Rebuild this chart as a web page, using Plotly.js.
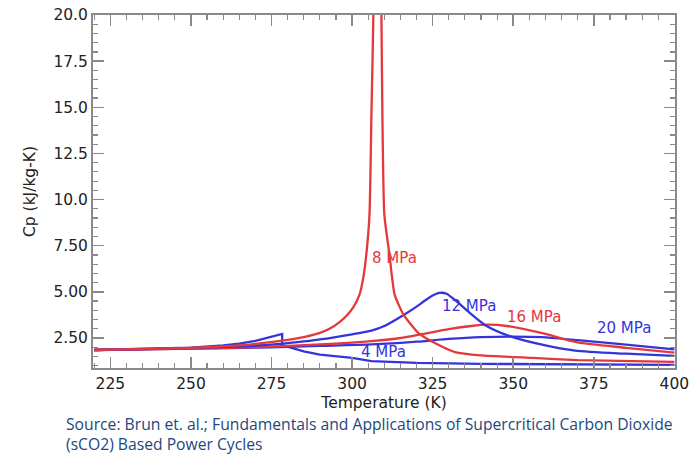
<!DOCTYPE html>
<html>
<head>
<meta charset="utf-8">
<script src="https://cdn.plot.ly/plotly-3.0.1.min.js"></script>
<style>
  html, body { margin: 0; padding: 0; background: #ffffff; }
  #chart { width: 696px; height: 454px; }
</style>
</head>
<body>
<div id="chart"></div>
<script>
// ---- Data (Temperature in K, Cp in kJ/kg-K) ----
const temp4MPa = [220, 230, 240, 250, 260, 265, 270, 275, 278.3, 278.3, 281, 285, 290, 295, 300, 306, 320, 340, 370, 400];
const cp4MPa   = [1.85, 1.88, 1.92, 1.98, 2.10, 2.20, 2.35, 2.55, 2.72, 2.12, 1.97, 1.78, 1.60, 1.50, 1.42, 1.25, 1.15, 1.10, 1.06, 1.04];

const temp8MPa = [220, 240, 255, 265, 272, 280, 285, 290, 293, 296, 298.5, 300.5, 302.3, 303.5, 304.4, 305.4, 306, 306.6, 307.8, 309.1, 309.4, 310, 311.6, 313.2, 316, 320.6, 326.9, 331.9, 340, 356, 370, 400];
const cp8MPa   = [1.85, 1.92, 2.00, 2.10, 2.22, 2.40, 2.55, 2.78, 3.00, 3.35, 3.75, 4.20, 4.85, 5.80, 7.00, 9.20, 14.6, 20.0, 40.0, 20.0, 14.6, 9.20, 7.00, 4.85, 3.75, 2.77, 2.12, 1.74, 1.56, 1.42, 1.30, 1.21];

const temp12MPa = [220, 250, 265, 278, 290, 300, 306, 310, 316, 320, 324, 327, 329.3, 331.9, 336.5, 341.2, 349.6, 360, 369.2, 385, 400];
const cp12MPa   = [1.85, 1.95, 2.05, 2.18, 2.42, 2.70, 2.90, 3.15, 3.75, 4.20, 4.70, 4.94, 4.90, 4.56, 3.86, 3.21, 2.56, 2.10, 1.82, 1.65, 1.53];

const temp16MPa = [220, 250, 275, 290, 300, 306, 315, 322, 330, 337, 342, 348, 359, 370, 385, 400];
const cp16MPa   = [1.85, 1.93, 2.03, 2.15, 2.25, 2.33, 2.50, 2.72, 2.98, 3.15, 3.22, 3.15, 2.76, 2.26, 1.97, 1.71];

const temp20MPa = [220, 250, 275, 290, 306, 320, 330, 340, 350, 359, 370, 385, 400];
const cp20MPa   = [1.85, 1.92, 2.00, 2.07, 2.15, 2.30, 2.45, 2.55, 2.58, 2.55, 2.38, 2.14, 1.89];

const xTickVals = [225, 250, 275, 300, 325, 350, 375, 400];
const xTickText = ["225", "250", "275", "300", "325", "350", "375", "400"];
const yTickVals = [2.5, 5, 7.5, 10, 12.5, 15, 17.5, 20];
const yTickText = ["2.50", "5.00", "7.50", "10.0", "12.5", "15.0", "17.5", "20.0"];

const seriesNames = ["4 MPa", "8 MPa", "12 MPa", "16 MPa", "20 MPa"];
const labelT  = [302.2, 305.6, 327.2, 347.4, 375.5];
const labelCp = [1.74, 6.84, 4.24, 3.64, 3.04];

// ---- Styling ----
const RED = "#e5383b";
const BLUE = "#3434dc";
const AXIS = "#8a8a8a";
const FONT = "DejaVu Sans, Liberation Sans, Arial, sans-serif";

function curve(x, y, color, name, shape, smoothing) {
  return {
    x: x, y: y, name: name, type: "scatter", mode: "lines",
    line: { color: color, width: 2.3, shape: shape, smoothing: smoothing },
    showlegend: false, hoverinfo: "x+y+name"
  };
}

const traces = [
  curve(temp4MPa, cp4MPa, BLUE, seriesNames[0], "linear", 0),
  curve(temp20MPa, cp20MPa, BLUE, seriesNames[4], "spline", 0.7),
  curve(temp16MPa, cp16MPa, RED, seriesNames[3], "spline", 0.7),
  curve(temp12MPa, cp12MPa, BLUE, seriesNames[2], "spline", 0.7),
  curve(temp8MPa, cp8MPa, RED, seriesNames[1], "spline", 0.5)
];

const labelColors = [BLUE, RED, BLUE, RED, BLUE];
const annotations = seriesNames.map((n, i) => ({
  x: labelT[i], y: labelCp[i], xref: "x", yref: "y",
  text: n, showarrow: false, xanchor: "left", yanchor: "middle",
  font: { family: FONT, size: 15, color: labelColors[i] }
}));

annotations.push({
  xref: "paper", yref: "paper", x: -0.05, y: -0.187,
  xanchor: "left", yanchor: "middle", align: "left", showarrow: false,
  text: "Source: Brun et. al.; Fundamentals and Applications of Supercritical Carbon Dioxide<br>(sCO2) Based Power Cycles",
  font: { family: "Open Sans, sans-serif", size: 15.7, color: "#22477e" }
});

const axisCommon = {
  showgrid: false, zeroline: false,
  showline: true, linecolor: AXIS, linewidth: 2,
  mirror: "ticks", ticks: "inside", ticklen: 11, tickwidth: 1.5, tickcolor: AXIS,
  tickfont: { family: FONT, size: 15.5, color: "#222222" }
};

const layout = {
  width: 696, height: 454,
  margin: { l: 93, r: 21, t: 15, b: 86 },
  paper_bgcolor: "#ffffff", plot_bgcolor: "#ffffff",
  xaxis: Object.assign({}, axisCommon, {
    range: [219.6, 400.2],
    tickmode: "array", tickvals: xTickVals, ticktext: xTickText,
    minor: { tickmode: "linear", tick0: 0, dtick: 5, ticks: "inside", ticklen: 5, tickwidth: 1.2, tickcolor: AXIS, showgrid: false },
    title: { text: "Temperature (K)", font: { family: FONT, size: 15.5, color: "#222222" }, standoff: 6 }
  }),
  yaxis: Object.assign({}, axisCommon, {
    range: [0.875, 20],
    tickmode: "array", tickvals: yTickVals, ticktext: yTickText,
    minor: { tickmode: "linear", tick0: 0, dtick: 0.5, ticks: "inside", ticklen: 5, tickwidth: 1.2, tickcolor: AXIS, showgrid: false },
    title: { text: "Cp (kJ/kg-K)", font: { family: FONT, size: 15.5, color: "#222222" }, standoff: 14 }
  }),
  annotations: annotations
};

Plotly.newPlot("chart", traces, layout, { staticPlot: true, displayModeBar: false });
</script>
</body>
</html>
